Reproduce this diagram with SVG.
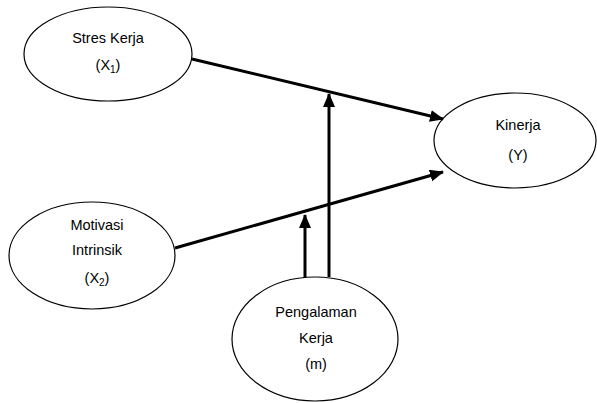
<svg xmlns="http://www.w3.org/2000/svg" width="597" height="403" viewBox="0 0 597 403">
<style>
.node ellipse{fill:#fff;stroke:#000;stroke-width:1.2}
.node text{font-family:"Liberation Sans",Arial,sans-serif;font-size:14.5px;fill:#000;text-anchor:middle}
.sub{font-size:10px}
#connectors line{stroke:#000;stroke-width:3;fill:none}
</style>
<defs>
<marker id="ah" markerUnits="userSpaceOnUse" markerWidth="14" markerHeight="12" refX="13" refY="6" orient="auto">
<path d="M0,0 L14,6 L0,12 Z" fill="#000"/>
</marker>
</defs>
<rect width="597" height="403" fill="#fff"/>
<g id="n-stres" class="node">
<ellipse cx="108" cy="54" rx="84" ry="47"/>
<text x="108" y="43">Stres Kerja</text>
<text x="108" y="70">(X<tspan class="sub" dy="3">1</tspan><tspan dy="-3">)</tspan></text>
</g>
<g id="n-kinerja" class="node">
<ellipse cx="515" cy="140.5" rx="81" ry="47.5"/>
<text x="518" y="130">Kinerja</text>
<text x="518" y="160">(Y)</text>
</g>
<g id="n-motivasi" class="node">
<ellipse cx="92" cy="255.5" rx="83" ry="53.5"/>
<text x="97" y="230">Motivasi</text>
<text x="97" y="255">Intrinsik</text>
<text x="97" y="283">(X<tspan class="sub" dy="3">2</tspan><tspan dy="-3">)</tspan></text>
</g>
<g id="n-pengalaman" class="node">
<ellipse cx="315" cy="339" rx="83" ry="62"/>
<text x="316" y="317">Pengalaman</text>
<text x="316" y="343">Kerja</text>
<text x="316" y="369">(m)</text>
</g>
<g id="connectors">
<line x1="192" y1="59" x2="443" y2="119" marker-end="url(#ah)"/>
<line x1="175" y1="248" x2="443" y2="172" marker-end="url(#ah)"/>
<line x1="329" y1="277" x2="329" y2="94" marker-end="url(#ah)"/>
<line x1="305" y1="278" x2="305" y2="215" marker-end="url(#ah)"/>
</g>
</svg>
